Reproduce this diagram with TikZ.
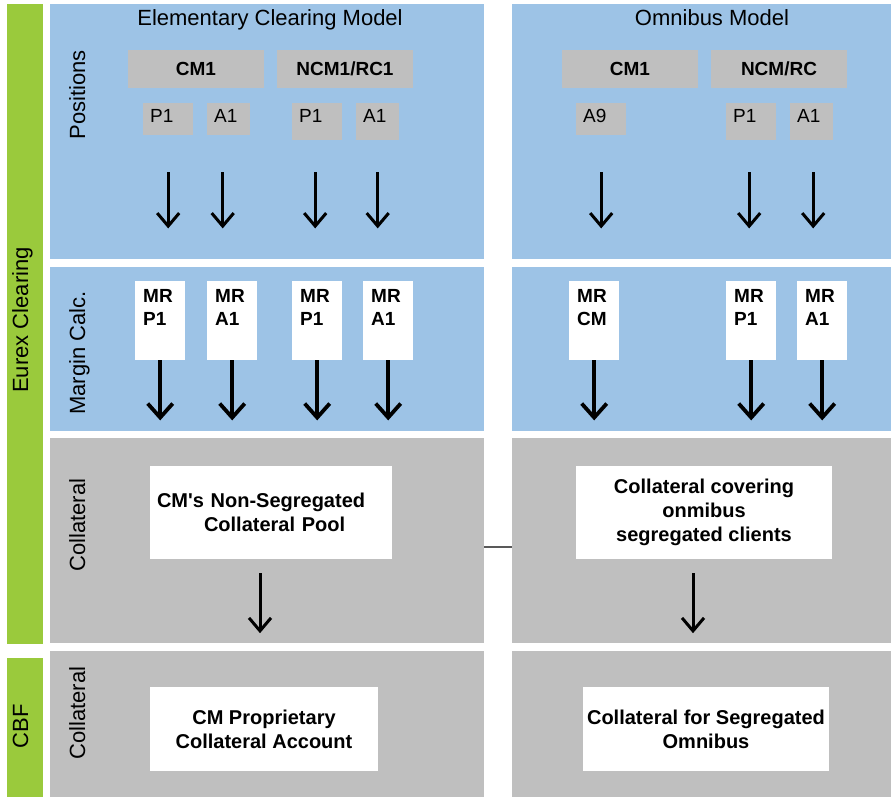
\documentclass[tikz,border=0pt]{standalone}
\usepackage{fontspec}
\setmainfont{Liberation Sans}
\usetikzlibrary{arrows.meta}
\definecolor{clearblue}{HTML}{9DC3E6}
\definecolor{boxgrey}{HTML}{BFBFBF}
\definecolor{eurexgreen}{HTML}{9ACA3C}
\definecolor{linkgrey}{HTML}{595959}

\begin{document}
\begin{tikzpicture}[x=1pt, y=-1pt,
  panel/.style={anchor=north west, inner sep=0pt, outer sep=0pt},
  sidebar/.style={panel, fill=eurexgreen, minimum width=36pt},
  heading/.style={anchor=base, font=\fontsize{22}{26}\selectfont},
  rowlabel/.style={anchor=base, rotate=90, font=\fontsize{22}{26}\selectfont},
  member/.style={fill=boxgrey, inner sep=0pt, minimum width=136pt, minimum height=38pt, font=\bfseries\fontsize{19}{23}\selectfont},
  acct/.style={fill=boxgrey, anchor=north west, align=left, inner xsep=7pt, inner ysep=5pt, text height=14pt, font=\fontsize{19}{23}\selectfont},
  mrbox/.style={fill=white, anchor=north west, align=left, inner xsep=8pt, inner ysep=4pt, text width=34pt, text height=17pt, text depth=54pt, font=\bfseries\fontsize{19}{23}\selectfont},
  collbox/.style={fill=white, inner sep=0pt, align=center, font=\bfseries\fontsize{20}{24}\selectfont},
  posarrow/.style={-{Straight Barb[length=13pt,width=22pt]}, line width=3pt},
  mrarrow/.style={-{Straight Barb[length=14pt,width=25pt]}, line width=3.8pt}]
\useasboundingbox (0,0) rectangle (891,797);

% Side bars
\node[sidebar, minimum height=640pt] (eurex) at (7,4) {};
\node[sidebar, minimum height=139pt] (cbf) at (7,658) {};
\node[rowlabel] (eurexlbl) at (28,320) {Eurex Clearing};
\node[rowlabel] (cbflbl) at (28,726) {CBF};

% Panels
\node[panel, fill=clearblue, minimum width=434pt, minimum height=255pt] (posL) at (50,4) {};
\node[panel, fill=clearblue, minimum width=379pt, minimum height=255pt] (posR) at (512,4) {};
\node[panel, fill=clearblue, minimum width=434pt, minimum height=164pt] (marL) at (50,267) {};
\node[panel, fill=clearblue, minimum width=379pt, minimum height=164pt] (marR) at (512,267) {};
\node[panel, fill=boxgrey, minimum width=434pt, minimum height=205pt] (colL) at (50,438) {};
\node[panel, fill=boxgrey, minimum width=379pt, minimum height=205pt] (colR) at (512,438) {};
\node[panel, fill=boxgrey, minimum width=434pt, minimum height=146pt] (cbfL) at (50,651) {};
\node[panel, fill=boxgrey, minimum width=379pt, minimum height=146pt] (cbfR) at (512,651) {};

% Row labels
\node[rowlabel] (poslbl) at (85,95) {Positions};
\node[rowlabel] (marlbl) at (85,353) {Margin Calc.};
\node[rowlabel] (collbl) at (85,525) {Collateral};
\node[rowlabel] (cbfcollbl) at (85,713) {Collateral};

% Titles
\node[heading] (titleL) at (270,26) {Elementary Clearing Model};
\node[heading] (titleR) at (712,26) {Omnibus Model};

% Members
\node[member] (cm1L) at (196,69) {CM1};
\node[member] (ncmL) at (345,69) {NCM1/RC1};
\node[member] (cm1R) at (630,69) {CM1};
\node[member] (ncmR) at (779,69) {NCM/RC};

% Accounts
\node[acct, text width=36pt, text depth=8pt] (p1L) at (143,103) {P1};
\node[acct, text width=29pt, text depth=8pt] (a1L) at (207,103) {A1};
\node[acct, text width=36pt, text depth=13pt] (p1nL) at (292,103) {P1};
\node[acct, text width=29pt, text depth=13pt] (a1nL) at (356,103) {A1};
\node[acct, text width=36pt, text depth=8pt] (a9R) at (576,103) {A9};
\node[acct, text width=36pt, text depth=13pt] (p1R) at (726,103) {P1};
\node[acct, text width=29pt, text depth=13pt] (a1R) at (790,103) {A1};

\draw[posarrow] ([yshift=-37pt]p1L.south) -- ([yshift=-93pt]p1L.south);
\draw[posarrow] ([xshift=-6pt,yshift=-37pt]a1L.south) -- ([xshift=-6pt,yshift=-93pt]a1L.south);
\draw[posarrow] ([xshift=-2pt,yshift=-32pt]p1nL.south) -- ([xshift=-2pt,yshift=-88pt]p1nL.south);
\draw[posarrow] ([yshift=-32pt]a1nL.south) -- ([yshift=-88pt]a1nL.south);
\draw[posarrow] ([yshift=-37pt]a9R.south) -- ([yshift=-93pt]a9R.south);
\draw[posarrow] ([xshift=-2pt,yshift=-32pt]p1R.south) -- ([xshift=-2pt,yshift=-88pt]p1R.south);
\draw[posarrow] ([xshift=1.5pt,yshift=-32pt]a1R.south) -- ([xshift=1.5pt,yshift=-88pt]a1R.south);

% Margin requirements
\node[mrbox] (mrp1L) at (135,281) {MR\\P1};
\node[mrbox] (mra1L) at (207,281) {MR\\A1};
\node[mrbox] (mrp1nL) at (292,281) {MR\\P1};
\node[mrbox] (mra1nL) at (363,281) {MR\\A1};
\node[mrbox] (mrcmR) at (569,281) {MR\\CM};
\node[mrbox] (mrp1R) at (726,281) {MR\\P1};
\node[mrbox] (mra1R) at (797,281) {MR\\A1};

\draw[mrarrow] (mrp1L.south) -- ([yshift=-60pt]mrp1L.south);
\draw[mrarrow] (mra1L.south) -- ([yshift=-60pt]mra1L.south);
\draw[mrarrow] (mrp1nL.south) -- ([yshift=-60pt]mrp1nL.south);
\draw[mrarrow] (mra1nL.south) -- ([yshift=-60pt]mra1nL.south);
\draw[mrarrow] (mrcmR.south) -- ([yshift=-60pt]mrcmR.south);
\draw[mrarrow] (mrp1R.south) -- ([yshift=-60pt]mrp1R.south);
\draw[mrarrow] (mra1R.south) -- ([yshift=-60pt]mra1R.south);

% Collateral
\node[collbox, align=left, text width=228pt, minimum width=242pt, minimum height=93pt] (poolL) at (271,512.5)
  {CM\textquotesingle s Non-Segregated\\\hspace*{47pt}Collateral Pool};
\node[collbox, minimum width=256pt, minimum height=93pt] (omniR) at (704,512.5)
  {Collateral covering\\onmibus\\segregated clients};
\node[collbox, minimum width=228pt, minimum height=84pt] (propL) at (264,729)
  {CM Proprietary\\Collateral Account};
\node[collbox, minimum width=246pt, minimum height=84pt] (segR) at (706,729)
  {Collateral for Segregated\\Omnibus};

\draw[posarrow] ([xshift=-11pt,yshift=-14pt]poolL.south) -- ([xshift=-11pt,yshift=-74pt]poolL.south);
\draw[posarrow] ([xshift=-11pt,yshift=-14pt]omniR.south) -- ([xshift=-11pt,yshift=-74pt]omniR.south);
\draw[linkgrey, line width=2pt] ([yshift=-6pt]colL.east) -- ([yshift=-6pt]colR.west);
\end{tikzpicture}
\end{document}
